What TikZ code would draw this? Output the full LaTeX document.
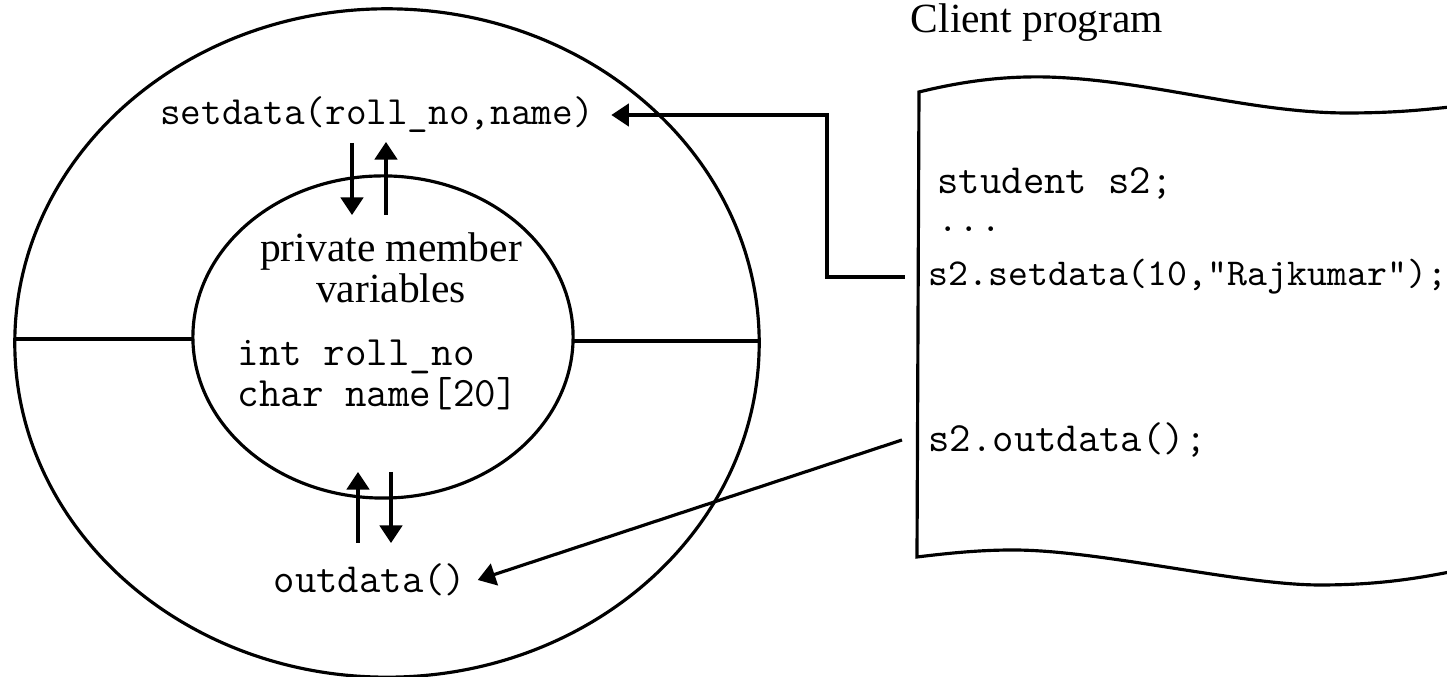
\documentclass[tikz,border=0pt]{standalone}
\usepackage{fontspec}
\setmainfont{Liberation Serif}
\usetikzlibrary{arrows.meta}
\begin{document}
\begin{tikzpicture}[x=0.01cm, y=-0.01cm, line width=0.9pt,
  arr/.style={-{Triangle[length=5pt,width=6.4pt]}},
  code/.style={font=\ttfamily\fontsize{11.8}{12}\selectfont, inner sep=0pt},
  vardecl/.style={font=\ttfamily\fontsize{11.9}{10.2}\selectfont, inner sep=0pt, align=left},
  label/.style={font=\fontsize{11.8}{10.6}\selectfont, inner sep=0pt, align=center}]
\useasboundingbox (0,0) rectangle (1447,677);

% class object: outer ring of member functions, inner core of data
\draw (387,343) ellipse [x radius=3.72cm, y radius=3.34cm];
\draw (383,337) ellipse [x radius=1.90cm, y radius=1.61cm];
\draw (15,339) -- (193,339);
\draw (573,341) -- (759,341);

% texts inside the object
\node[code, font=\ttfamily\fontsize{11.4}{12}\selectfont] (setd) at (377,115) {setdata(roll\_no,name)};
\node[label] (priv) at (391,268) {private member\\variables};
\node[vardecl, anchor=west] (vars) at (236,375) {int roll\_no\\char name[20]};
\node[code] (outd) at (370,580) {outdata()};

% data flow between the functions and the private data
\coordinate (sdA) at (352,143);
\coordinate (sdB) at (352,215);
\coordinate (sdC) at (386,215);
\coordinate (sdD) at (386,142);
\coordinate (odA) at (358,543);
\coordinate (odB) at (358,472);
\coordinate (odC) at (391,472);
\coordinate (odD) at (391,543);
\draw[arr] (sdA) -- (sdB);
\draw[arr] (sdC) -- (sdD);
\draw[arr] (odA) -- (odB);
\draw[arr] (odC) -- (odD);

% client program sheet
\node[font=\fontsize{11.8}{14}\selectfont, inner sep=0pt] (client) at (1037,23) {Client program};
\draw (1460,106) .. controls (1430,109) and (1400,113) .. (1347,113)
  .. controls (1250,113) and (1150,80) .. (1047,77)
  .. controls (1000,76) and (960,82) .. (919,92)
  -- (917,557)
  .. controls (950,553) and (980,550) .. (1013,550)
  .. controls (1100,550) and (1240,585) .. (1320,585)
  .. controls (1380,585) and (1420,578) .. (1460,570);

\node[code, anchor=west] (cdecl) at (936,183) {student s2;};
\node[code, anchor=west] (cdots) at (936,229) {...};
\node[code, anchor=west, font=\ttfamily\fontsize{10.8}{12}\selectfont] (cset) at (927,277) {s2.setdata(10,"Rajkumar");};
\node[code, anchor=west] (cout) at (927,440) {s2.outdata();};

% calls from the client into the object
\coordinate (bend) at (827,277);
\draw[arr] ([xshift=-0.22cm]cset.west) -- (bend) |- ([xshift=0.16cm]setd.east);
\draw[arr] ([xshift=-0.25cm]cout.west) -- ([xshift=0.1cm]outd.east);
\end{tikzpicture}
\end{document}
